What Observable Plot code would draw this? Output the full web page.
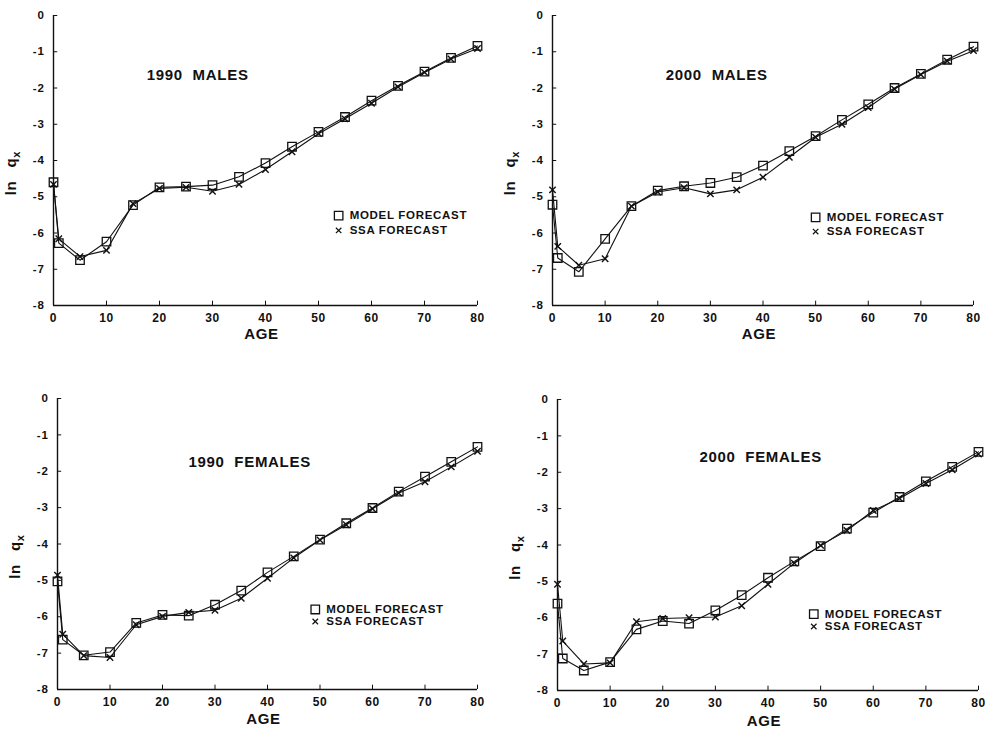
<!DOCTYPE html>
<html><head><meta charset="utf-8">
<script src="https://cdn.jsdelivr.net/npm/d3@7"></script>
<script src="https://cdn.jsdelivr.net/npm/@observablehq/plot@0.6"></script>
<style>
body{margin:0;background:#fff;}
#wrap{position:relative;width:988px;height:732px;background:#fff;}
#wrap > div{position:absolute;}
svg{overflow:visible;}
</style></head><body><div id="wrap"></div>
<script>
// ---- data ----
const ages = [0, 1, 5, 10, 15, 20, 25, 30, 35, 40, 45, 50, 55, 60, 65, 70, 75, 80];
const xTicks = [0, 10, 20, 30, 40, 50, 60, 70, 80];
const yTicks = [0, -1, -2, -3, -4, -5, -6, -7, -8];
const seriesNames = ["MODEL FORECAST", "SSA FORECAST"];
const panelTitles = ["1990\u00a0 MALES", "2000\u00a0 MALES", "1990\u00a0 FEMALES", "2000\u00a0 FEMALES"];

const model1990M = [-4.6, -6.28, -6.75, -6.24, -5.23, -4.74, -4.72, -4.68, -4.45, -4.07, -3.62, -3.21, -2.80, -2.35, -1.94, -1.55, -1.17, -0.84];
const ssa1990M   = [-4.66, -6.16, -6.65, -6.48, -5.19, -4.77, -4.74, -4.85, -4.66, -4.25, -3.76, -3.26, -2.85, -2.42, -1.97, -1.57, -1.20, -0.91];

const model2000M = [-5.22, -6.69, -7.07, -6.16, -5.26, -4.83, -4.71, -4.62, -4.46, -4.14, -3.74, -3.33, -2.88, -2.45, -2.00, -1.61, -1.22, -0.86];
const ssa2000M   = [-4.81, -6.37, -6.89, -6.71, -5.26, -4.87, -4.75, -4.92, -4.81, -4.46, -3.91, -3.36, -3.00, -2.54, -2.03, -1.63, -1.26, -0.97];

const model1990F = [-5.03, -6.63, -7.06, -6.97, -6.17, -5.95, -5.97, -5.67, -5.28, -4.78, -4.34, -3.88, -3.43, -3.01, -2.56, -2.15, -1.74, -1.33];
const ssa1990F   = [-4.86, -6.48, -7.07, -7.12, -6.22, -5.99, -5.88, -5.82, -5.49, -4.94, -4.38, -3.89, -3.47, -3.03, -2.60, -2.29, -1.88, -1.45];

const model2000F = [-5.61, -7.12, -7.45, -7.22, -6.32, -6.09, -6.16, -5.80, -5.38, -4.90, -4.45, -4.03, -3.55, -3.11, -2.68, -2.25, -1.85, -1.44];
const ssa2000F   = [-5.08, -6.64, -7.27, -7.24, -6.11, -6.02, -6.00, -5.98, -5.67, -5.08, -4.50, -4.01, -3.60, -3.05, -2.72, -2.31, -1.93, -1.50];

// ---- layout (options, not data) ----
const panels = [
  {title: panelTitles[0], model: model1990M, ssa: ssa1990M, left: 0,   top: 0,   width: 494, height: 350, ml: 53, mr: 17, mt: 15, mb: 45, tx: 27.2, ty: -1.66, lx: 53.8, ly1: -5.52, ly2: -5.93, ageDy: 33},
  {title: panelTitles[1], model: model2000M, ssa: ssa2000M, left: 494, top: 0,   width: 494, height: 350, ml: 58, mr: 15, mt: 15, mb: 45, tx: 31.2, ty: -1.66, lx: 50.0, ly1: -5.57, ly2: -5.96, ageDy: 33},
  {title: panelTitles[2], model: model1990F, ssa: ssa1990F, left: 0,   top: 366, width: 494, height: 366, ml: 57, mr: 17, mt: 32, mb: 43, tx: 36.6, ty: -1.76, lx: 49.1, ly1: -5.80, ly2: -6.13, ageDy: 34},
  {title: panelTitles[3], model: model2000F, ssa: ssa2000F, left: 494, top: 366, width: 494, height: 366, ml: 63, mr: 10, mt: 33, mb: 42, tx: 38.6, ty: -1.59, lx: 48.7, ly1: -5.90, ly2: -6.24, ageDy: 35}
];

const ink = "#111";
const font = "'Liberation Sans', Arial, Helvetica, sans-serif";
const wrap = document.getElementById("wrap");

for (const p of panels) {
  const modelRows = ages.map((a, i) => ({age: a, v: p.model[i]}));
  const ssaRows = ages.map((a, i) => ({age: a, v: p.ssa[i]}));
  const chart = Plot.plot({
    width: p.width, height: p.height,
    marginLeft: p.ml, marginRight: p.mr, marginTop: p.mt, marginBottom: p.mb,
    x: {domain: [0, 80]},
    y: {domain: [-8, 0]},
    style: {fontFamily: font, fontWeight: "bold", color: ink, background: "transparent", letterSpacing: "0.7px"},
    marks: [
      Plot.ruleX([0], {y1: -8, y2: 0, stroke: ink, strokeWidth: 1.4}),
      Plot.ruleY([-8], {x1: 0, x2: 80, stroke: ink, strokeWidth: 1.4}),
      Plot.ruleY(yTicks, {y: d => d, x1: 0, x2: 0.8, stroke: ink, strokeWidth: 1}),
      Plot.ruleX(xTicks, {x: d => d, y1: -8, y2: -7.88, stroke: ink, strokeWidth: 1}),
      Plot.axisY({ticks: yTicks, tickSize: 0, tickPadding: 9, fontSize: 11.5, label: null, tickFormat: d => d === 0 ? "0" : "-" + Math.abs(d)}),
      Plot.axisX({ticks: xTicks, tickSize: 0, tickPadding: 8, fontSize: 12, label: null}),
      Plot.line(modelRows, {x: "age", y: "v", stroke: ink, strokeWidth: 1.1}),
      Plot.line(ssaRows, {x: "age", y: "v", stroke: ink, strokeWidth: 1.1}),
      Plot.dot(modelRows, {x: "age", y: "v", symbol: "square", r: 4.8, stroke: ink, fill: "none", strokeWidth: 1.3}),
      Plot.dot(ssaRows, {x: "age", y: "v", symbol: "times", r: 3, stroke: ink, strokeWidth: 1.4}),
      Plot.text([p.title], {x: () => p.tx, y: () => p.ty, text: d => d, fontSize: 15, fontWeight: "bold", fill: ink}),
      // legend
      Plot.dot([seriesNames[0]], {x: () => p.lx, y: () => p.ly1, symbol: "square", r: 4.8, stroke: ink, fill: "none", strokeWidth: 1.3}),
      Plot.dot([seriesNames[1]], {x: () => p.lx, y: () => p.ly2, symbol: "times", r: 2.6, stroke: ink, strokeWidth: 1.2}),
      Plot.text([seriesNames[0]], {x: () => p.lx, y: () => p.ly1, text: d => d, textAnchor: "start", dx: 11, fontSize: 11.5, fontWeight: "bold", fill: ink}),
      Plot.text([seriesNames[1]], {x: () => p.lx, y: () => p.ly2, text: d => d, textAnchor: "start", dx: 11, fontSize: 11.5, fontWeight: "bold", fill: ink}),
      Plot.text(["AGE"], {frameAnchor: "bottom", text: d => d, dy: p.ageDy, dx: -4, fontSize: 15, fontWeight: "bold", fill: ink})
    ]
  });
  // y-axis label "ln q_x" with subscript
  const plotH = p.height - p.mt - p.mb;
  const lbl = d3.select(chart).append("text")
    .attr("transform", `translate(${p.ml - 37},${p.mt + 0.545 * plotH}) rotate(-90)`)
    .attr("text-anchor", "middle")
    .attr("fill", ink)
    .style("font-family", font).style("font-weight", "bold").style("font-size", "15px");
  lbl.append("tspan").text("ln");
  lbl.append("tspan").attr("dx", 13).text("q");
  lbl.append("tspan").attr("dy", 4).style("font-size", "11px").text("x");

  const holder = document.createElement("div");
  holder.style.left = p.left + "px";
  holder.style.top = p.top + "px";
  holder.appendChild(chart);
  wrap.appendChild(holder);
}
</script></body></html>
